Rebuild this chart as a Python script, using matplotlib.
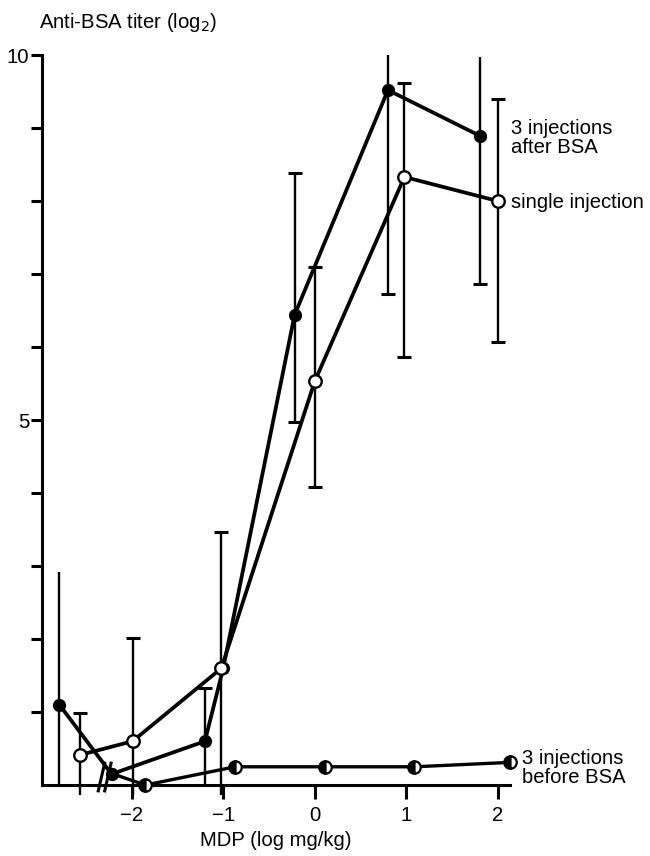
import numpy as np
import matplotlib
matplotlib.use('Agg')
import matplotlib.pyplot as plt

plt.rcParams['font.family'] = ['Liberation Sans', 'DejaVu Sans']

# 3 injections after BSA (filled)
after_x = [-2.79, -2.22, -1.2, -1.0, -0.22, 0.8, 1.81]
after_y = [1.10, 0.15, 0.60, 1.60, 6.44, 9.52, 8.89]

# single injection (open)
single_x = [-2.57, -1.99, -1.02, 0.0, 0.98, 2.0]
single_y = [0.41, 0.60, 1.60, 5.53, 8.33, 8.00]

# 3 injections before BSA (half filled)
before_x = [-2.2, -1.85, -0.87, 0.11, 1.09, 2.13]
before_y = [0.15, 0.0, 0.25, 0.25, 0.25, 0.31]

# error bars: x, low, high, cap on low, cap on high
after_err_x = [-2.79, -1.2, -0.22, 0.8, 1.81]
after_err_lo = [0.0, 0.0, 4.97, 6.73, 6.86]
after_err_hi = [2.92, 1.33, 8.38, 10.0, 9.97]
after_cap_lo = [False, False, True, True, True]
after_cap_hi = [False, True, True, False, False]

single_err_x = [-2.57, -1.99, -1.02, 0.0, 0.98, 2.0]
single_err_lo = [-0.14, -0.14, -0.14, 4.08, 5.86, 6.07]
single_err_hi = [0.99, 2.01, 3.47, 7.10, 9.62, 9.40]
single_cap_lo = [False, False, False, True, True, True]
single_cap_hi = [True, True, True, True, True, True]

FS = 14.6

fig = plt.figure(figsize=(6.5, 8.56), dpi=100)
ax = fig.add_axes([0.0646, 0.0829, 0.7195, 0.8528])
ax.set_xlim(-2.98, 2.13)
ax.set_ylim(0, 10)


def error_bars(xs, lo, hi, cap_lo, cap_hi):
    ax.vlines(xs, lo, hi, color='k', lw=1.7, clip_on=False, zorder=2)
    for x, l, h, cl, ch in zip(xs, lo, hi, cap_lo, cap_hi):
        if cl:
            ax.plot([x], [l], marker='_', ms=10, mew=2.2, color='k', clip_on=False, zorder=2)
        if ch:
            ax.plot([x], [h], marker='_', ms=10, mew=2.2, color='k', clip_on=False, zorder=2)


error_bars(after_err_x, after_err_lo, after_err_hi, after_cap_lo, after_cap_hi)
error_bars(single_err_x, single_err_lo, single_err_hi, single_cap_lo, single_cap_hi)

ax.plot(before_x, before_y, '-', color='k', lw=2.4, clip_on=False, zorder=3)
ax.plot(before_x[1:], before_y[1:], ls='', marker='o', ms=9, fillstyle='left',
        markerfacecolor='k', markerfacecoloralt='white', markeredgecolor='k',
        mew=1.6, clip_on=False, zorder=4)

ax.plot(after_x, after_y, '-', color='k', lw=2.7, zorder=3)
ax.plot(after_x, after_y, ls='', marker='o', ms=8.5, color='k', zorder=4)

ax.plot(single_x, single_y, '-', color='k', lw=2.7, zorder=3)
ax.plot(single_x, single_y, ls='', marker='o', ms=9, markerfacecolor='white',
        markeredgecolor='k', mew=1.7, zorder=5)

# axis break marks
break_x = [-2.33, -2.26]
for bx in break_x:
    ax.plot([bx - 0.035, bx + 0.035], [-0.08, 0.3], color='k', lw=2.2, clip_on=False, zorder=6)

ax.spines['top'].set_visible(False)
ax.spines['right'].set_visible(False)
ax.spines['left'].set_linewidth(2.2)
ax.spines['bottom'].set_linewidth(2.2)

ax.set_xticks([-2, -1, 0, 1, 2])
ax.set_xticklabels(['\u22122', '\u22121', '0', '1', '2'])
ax.set_yticks([5, 10])
ax.set_yticks(np.arange(1, 10), minor=True)
ax.tick_params(axis='both', which='both', direction='out', width=2.2, labelsize=FS)
ax.tick_params(axis='x', length=10, pad=5)
ax.tick_params(axis='y', which='both', length=8, pad=1)

fig.text(39 / 650, 1 - 22 / 856, 'Anti-BSA titer (log$_2$)', fontsize=FS, ha='left', va='center')
fig.text(276 / 650, 1 - 840 / 856, 'MDP (log mg/kg)', fontsize=FS, ha='center', va='center')

fig.text(511 / 650, 1 - 138 / 856, '3 injections\nafter BSA', fontsize=FS,
         ha='left', va='center', linespacing=1.0)
fig.text(511 / 650, 1 - 202 / 856, 'single injection', fontsize=FS, ha='left', va='center')
fig.text(522 / 650, 1 - 768 / 856, '3 injections\nbefore BSA', fontsize=FS,
         ha='left', va='center', linespacing=1.0)

fig.savefig('out.png', dpi=100)
